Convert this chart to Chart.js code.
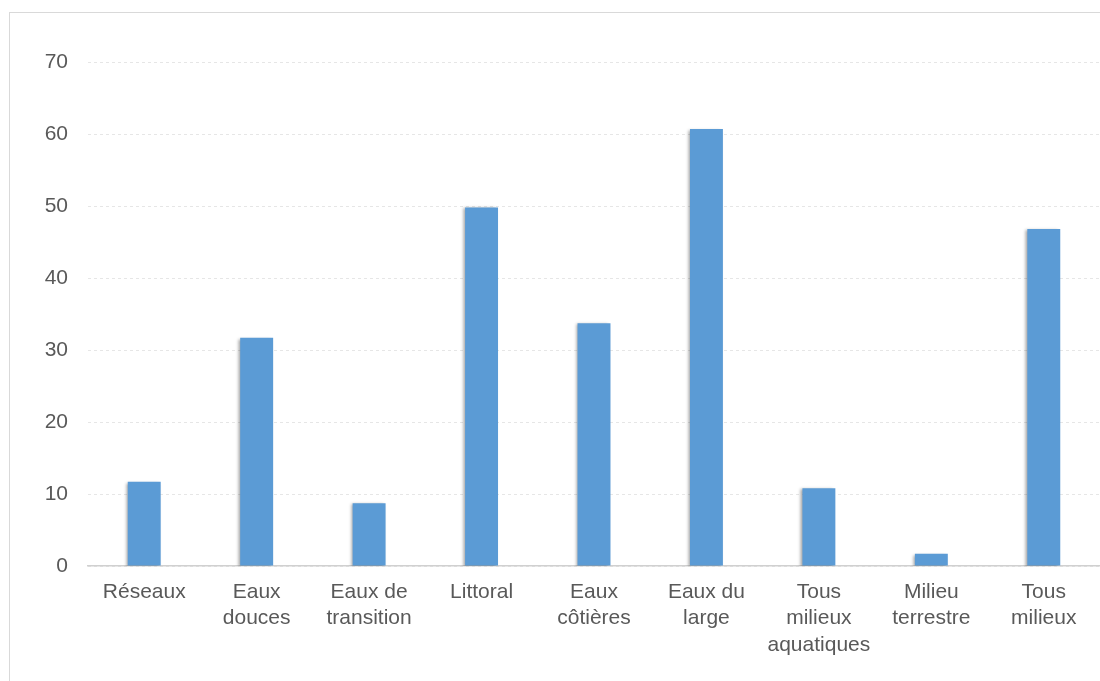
<!DOCTYPE html>
<html>
<head>
<meta charset="utf-8">
<script src="https://cdn.jsdelivr.net/npm/chart.js@4"></script>
<style>
  html, body { margin: 0; padding: 0; background: #ffffff; }
  #wrap { position: relative; width: 1100px; height: 681px; overflow: hidden; }
  #frame { position: absolute; left: 9px; top: 12px; width: 1200px; height: 800px;
           border-left: 1.5px solid #d9d9d9; border-top: 1.5px solid #d9d9d9; }
  canvas { position: absolute; left: 0; top: 0; }
</style>
</head>
<body>
<div id="wrap">
  <div id="frame"></div>
  <canvas id="c" width="1100" height="681"></canvas>
</div>
<script>
const categories = [
  "Réseaux",
  ["Eaux", "douces"],
  ["Eaux de", "transition"],
  "Littoral",
  ["Eaux", "côtières"],
  ["Eaux du", "large"],
  ["Tous", "milieux", "aquatiques"],
  ["Milieu", "terrestre"],
  ["Tous", "milieux"]
];
const values = [11.7, 31.7, 8.7, 49.8, 33.7, 60.7, 10.8, 1.7, 46.8];
const yTicks = [0, 10, 20, 30, 40, 50, 60, 70];

const shadowPlugin = {
  id: 'barShadow',
  beforeDatasetsDraw(chart) {
    const ctx = chart.ctx;
    ctx.save();
    ctx.shadowColor = 'rgba(0,0,0,0.35)';
    ctx.shadowBlur = 3;
    ctx.shadowOffsetX = -2;
    ctx.shadowOffsetY = 1;
  },
  afterDatasetsDraw(chart) {
    chart.ctx.restore();
  }
};

new Chart(document.getElementById('c'), {
  type: 'bar',
  data: {
    labels: categories,
    datasets: [{
      data: values,
      backgroundColor: '#5B9BD5',
      borderWidth: 0,
      barPercentage: 0.293,
      categoryPercentage: 1.0
    }]
  },
  options: {
    responsive: false,
    animation: false,
    devicePixelRatio: 1,
    layout: { padding: { left: 0, right: 0, top: 62, bottom: 0 } },
    plugins: {
      legend: { display: false },
      tooltip: { enabled: false }
    },
    scales: {
      x: {
        grid: { display: false, drawTicks: false },
        border: { display: true, color: '#d0d0d0', width: 1.5 },
        ticks: {
          color: '#595959',
          font: { family: 'Liberation Sans, Arial, sans-serif', size: 21, lineHeight: 1.26 },
          padding: 13,
          maxRotation: 0,
          autoSkip: false
        },
        afterFit(scale) { scale.height = 115; }
      },
      y: {
        min: 0,
        max: 70,
        afterBuildTicks(scale) { scale.ticks = yTicks.map(v => ({ value: v })); },
        grid: { color: '#e6e6e6', lineWidth: 1, drawTicks: false },
        border: { display: false, dash: [3, 3] },
        ticks: {
          color: '#595959',
          font: { family: 'Liberation Sans, Arial, sans-serif', size: 21 },
          padding: 20
        },
        afterFit(scale) { scale.width = 88; }
      }
    }
  },
  plugins: [shadowPlugin]
});
</script>
</body>
</html>
